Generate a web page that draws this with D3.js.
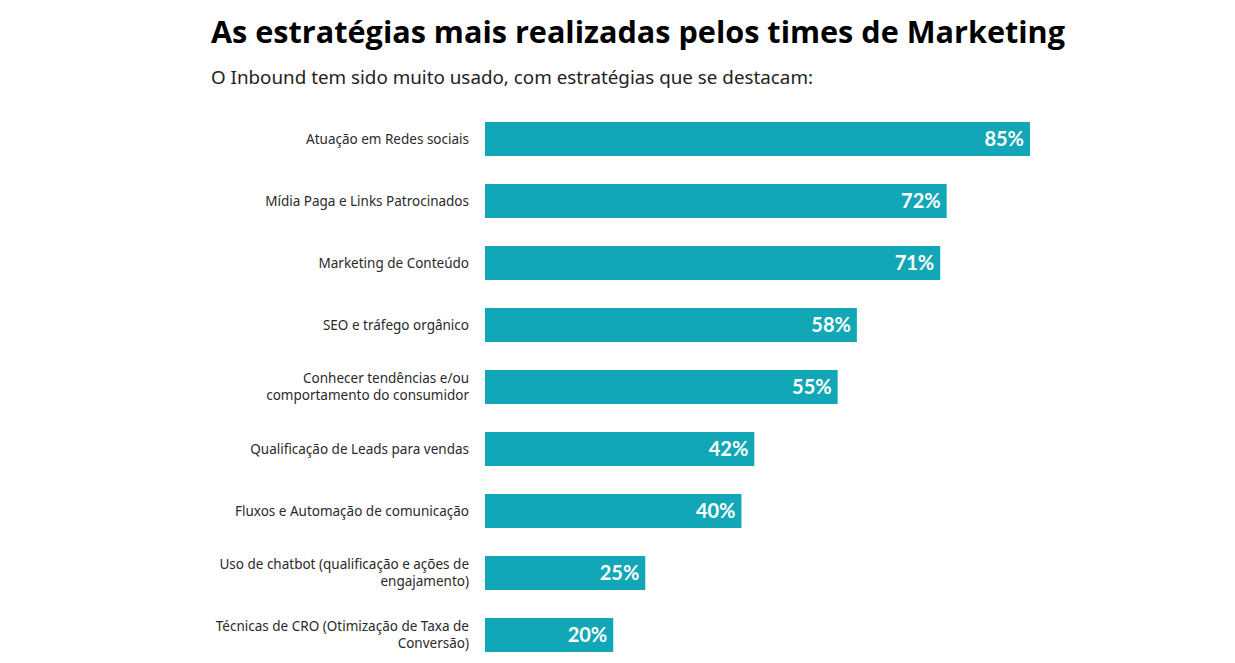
<!DOCTYPE html>
<html><head><meta charset="utf-8">
<script src="https://cdn.jsdelivr.net/npm/d3@7"></script>
<style>body{margin:0;background:#fff}svg{display:block}</style>
</head><body>
<script>
const title = "As estratégias mais realizadas pelos times de Marketing";
const subtitle = "O Inbound tem sido muito usado, com estratégias que se destacam:";
const categories = [
  ["Atuação em Redes sociais"],
  ["Mídia Paga e Links Patrocinados"],
  ["Marketing de Conteúdo"],
  ["SEO e tráfego orgânico"],
  ["Conhecer tendências e/ou", "comportamento do consumidor"],
  ["Qualificação de Leads para vendas"],
  ["Fluxos e Automação de comunicação"],
  ["Uso de chatbot (qualificação e ações de", "engajamento)"],
  ["Técnicas de CRO (Otimização de Taxa de", "Conversão)"]
];
const values = [85, 72, 71, 58, 55, 42, 40, 25, 20];

const W = 1235, H = 663;
const svg = d3.select("body").append("svg").attr("width", W).attr("height", H);

svg.append("text").attr("x", 211).attr("y", 43)
  .attr("font-family", "'Open Sans', sans-serif").attr("font-weight", 700)
  .attr("font-size", 31).attr("fill", "#000")
  .attr("textLength", 854).attr("lengthAdjust", "spacingAndGlyphs").text(title);
svg.append("text").attr("x", 211).attr("y", 84)
  .attr("font-family", "'Noto Sans', sans-serif").attr("font-size", 18.8)
  .attr("fill", "#222").attr("textLength", 602).attr("lengthAdjust", "spacingAndGlyphs").text(subtitle);

const idx = d3.range(values.length);
const x = d3.scaleLinear().domain([0, 85]).range([485, 1030]);
const y = d3.scaleBand().domain(idx).range([122, 652]).paddingInner(28/62).paddingOuter(0);

const g = svg.append("g");
g.selectAll("rect").data(idx).join("rect")
  .attr("x", x(0)).attr("y", i => y(i))
  .attr("width", i => x(values[i]) - x(0)).attr("height", y.bandwidth())
  .attr("fill", "#12a7b6");

g.selectAll("text.val").data(idx).join("text").attr("class", "val")
  .attr("x", i => x(values[i]) - 6).attr("y", i => y(i) + y.bandwidth()/2 + 7)
  .attr("text-anchor", "end").attr("font-family", "Lato, sans-serif")
  .attr("font-weight", 700).attr("font-size", 20).attr("fill", "#fff")
  .text(i => values[i] + "%");

const lab = g.selectAll("text.lab").data(idx).join("text").attr("class", "lab")
  .attr("text-anchor", "end").attr("font-family", "'Noto Sans', sans-serif")
  .attr("font-size", 13.5).attr("fill", "#2a2a2a");
lab.each(function(i) {
  const lines = categories[i];
  const cy = y(i) + y.bandwidth()/2;
  const lh = 17;
  lines.forEach((l, k) => {
    d3.select(this).append("tspan").attr("x", 469)
      .attr("y", cy + 4.5 + (k - (lines.length - 1)/2) * lh).text(l);
  });
});
</script>
</body></html>
